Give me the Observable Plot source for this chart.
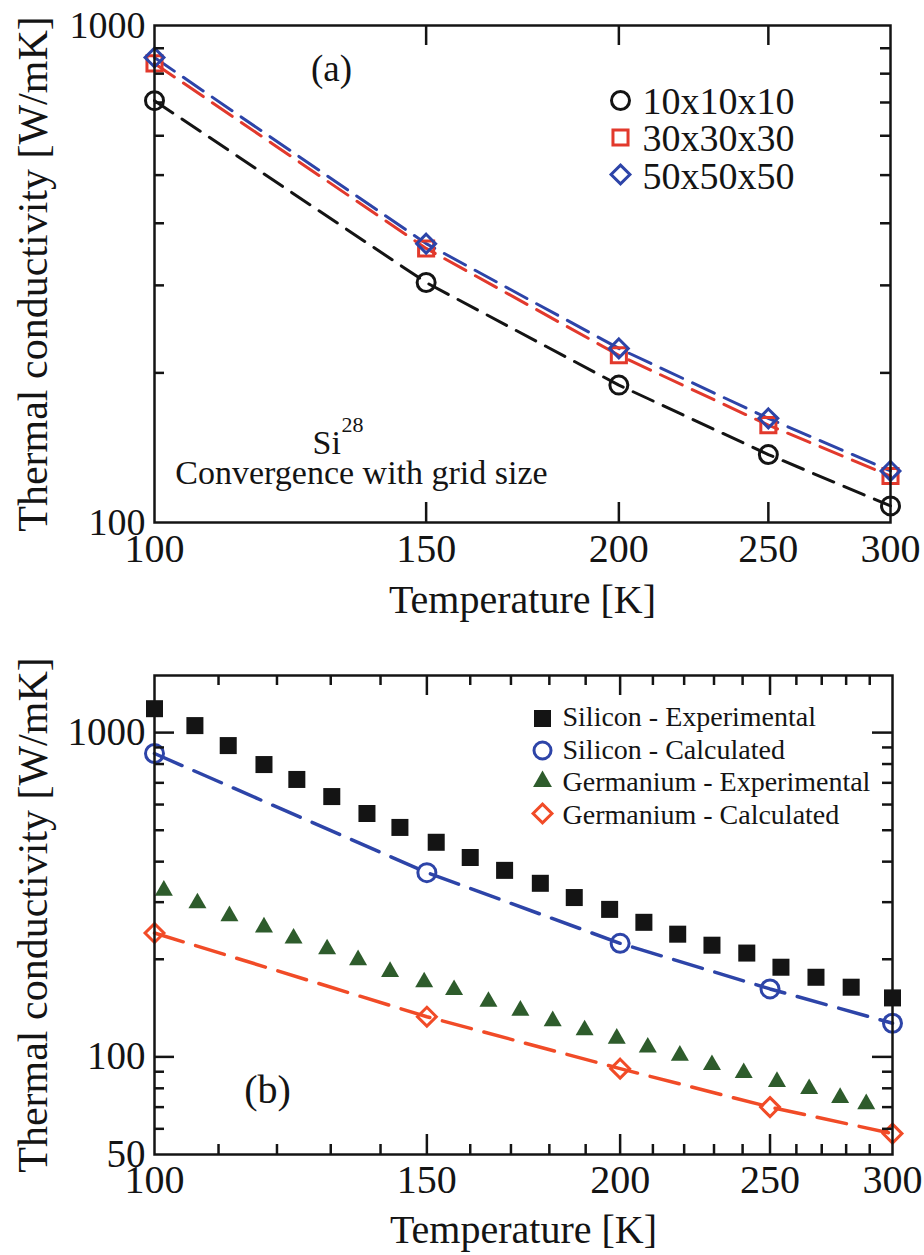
<!DOCTYPE html>
<html>
<head>
<meta charset="utf-8">
<script src="https://cdn.jsdelivr.net/npm/d3@7"></script>
<script src="https://cdn.jsdelivr.net/npm/@observablehq/plot@0.6"></script>
<style>
  body { margin: 0; background: #fff; }
  #chart svg { display: block; }
</style>
</head>
<body>
<div id="chart"></div>
<script>
// ---------- Panel (a) data ----------
const tempA = [100, 150, 200, 250, 300];
const grid10 = [706, 304, 189, 137, 108];
const grid30 = [839, 356, 217, 157, 124];
const grid50 = [862, 364, 224, 162, 127];
const gridLabels = ["10x10x10", "30x30x30", "50x50x50"];

// ---------- Panel (b) data ----------
const tempCalc = [100, 150, 200, 250, 300];
const siCalc = [862, 370, 224, 162, 127];
const geCalc = [241, 133, 92, 70, 58];
const siExpT = [100, 106.2, 111.6, 117.7, 123.6, 130.2, 137.2, 144.1, 152.1, 160, 168.4, 177.6, 186.8, 196.9, 207.2, 217.9, 229.3, 241.5, 254.1, 267.7, 282.1, 300];
const siExpK = [1185, 1051, 912, 797, 717, 635, 563, 510, 459, 412, 376, 343, 310, 285, 260, 239, 221, 209, 189, 176, 164, 152];
const geExpT = [101.4, 106.6, 111.8, 117.7, 123.0, 129.3, 135.4, 142.0, 149.4, 156.2, 164.4, 172.4, 180.9, 189.7, 199.0, 208.4, 218.6, 229.3, 240.4, 252.6, 265.0, 277.5, 288.5];
const geExpK = [326, 298, 272, 251, 232, 215, 199, 183, 170, 161, 148, 139, 129, 121, 114, 107, 101, 94.5, 89.3, 83.8, 79.7, 74.8, 71.6];
const legendB = ["Silicon - Experimental", "Silicon - Calculated", "Germanium - Experimental", "Germanium - Calculated"];

// ---------- tick values ----------
const xTickLabels = [100, 150, 200, 250, 300];
const xMajor = [150, 200, 250];
const xMinorB = [110, 120, 130, 140, 160, 170, 180, 190, 210, 220, 230, 240, 260, 270, 280, 290];
const yLabelsA = [100, 1000];
const yMinorA = [200, 300, 400, 500, 600, 700, 800, 900];
const yLabelsB = [50, 100, 1000];
const yMajorB = [100, 1000];
const yMinorB = [60, 70, 80, 90, 200, 300, 400, 500, 600, 700, 800, 900];

// ---------- styles ----------
const FONT = "Liberation Serif";
const INK = "#141414";
const RED_A = "#e2392c";
const BLUE = "#2d44a8";
const RED_B = "#f14b27";
const GREEN = "#2e5c2c";

const zip = (xs, ys) => xs.map((t, i) => ({t, k: ys[i]}));

function tickMarks(W, H, xMaj, xMin, yMaj, yMin) {
  const st = {stroke: INK, strokeWidth: 2.5};
  const M = 20, m = 10, out = [];
  out.push(Plot.tickX(xMaj, {x: d => d, insetTop: H - M, ...st}));
  out.push(Plot.tickX(xMaj, {x: d => d, insetBottom: H - M, ...st}));
  if (xMin.length) {
    out.push(Plot.tickX(xMin, {x: d => d, insetTop: H - m, ...st}));
    out.push(Plot.tickX(xMin, {x: d => d, insetBottom: H - m, ...st}));
  }
  if (yMaj.length) {
    out.push(Plot.tickY(yMaj, {y: d => d, insetRight: W - M, ...st}));
    out.push(Plot.tickY(yMaj, {y: d => d, insetLeft: W - M, ...st}));
  }
  out.push(Plot.tickY(yMin, {y: d => d, insetRight: W - m, ...st}));
  out.push(Plot.tickY(yMin, {y: d => d, insetLeft: W - m, ...st}));
  return out;
}

// ---------- Panel (a) ----------
const A = {w: 924, h: 630, mt: 25, mb: 108, ml: 154, mr: 34};
const AW = A.w - A.ml - A.mr, AH = A.h - A.mt - A.mb;
const symsA = ["circle", "square", "diamond2"];
const colsA = [INK, RED_A, BLUE];
const rA = [9, 8.5, 8.5];

const plotA = Plot.plot({
  width: A.w, height: A.h,
  marginTop: A.mt, marginBottom: A.mb, marginLeft: A.ml, marginRight: A.mr,
  style: {fontFamily: FONT, background: "white", color: INK},
  x: {type: "log", domain: [100, 300]},
  y: {type: "log", domain: [100, 1000]},
  marks: [
    Plot.line(zip(tempA, grid10), {x: "t", y: "k", stroke: INK, strokeWidth: 3, strokeDasharray: "22,11"}),
    Plot.line(zip(tempA, grid30), {x: "t", y: "k", stroke: RED_A, strokeWidth: 3, strokeDasharray: "24,11"}),
    Plot.line(zip(tempA, grid50), {x: "t", y: "k", stroke: BLUE, strokeWidth: 3, strokeDasharray: "24,11"}),
    Plot.dot(zip(tempA, grid10), {x: "t", y: "k", symbol: "circle", r: 9, stroke: INK, strokeWidth: 3, fill: "none"}),
    Plot.dot(zip(tempA, grid30), {x: "t", y: "k", symbol: "square", r: 8.5, stroke: RED_A, strokeWidth: 3, fill: "none"}),
    Plot.dot(zip(tempA, grid50), {x: "t", y: "k", symbol: "diamond2", r: 8.5, stroke: BLUE, strokeWidth: 3, fill: "none"}),
    Plot.frame({stroke: INK, strokeWidth: 2.5}),
    ...tickMarks(AW, AH, xMajor, [], [], yMinorA),
    Plot.axisX({ticks: xTickLabels, tickSize: 0, tickPadding: 11, fontSize: 40, tickFormat: d => String(d), label: null}),
    Plot.axisY({ticks: yLabelsA, tickSize: 0, tickPadding: 9, fontSize: 38, tickFormat: d => String(d), label: null}),
    Plot.text(["Temperature [K]"], {text: d => d, frameAnchor: "bottom", dy: 90, textAnchor: "middle", lineAnchor: "bottom", fontSize: 40}),
    Plot.text(["Thermal conductivity [W/mK]"], {text: d => d, frameAnchor: "left", rotate: -90, dx: -108, textAnchor: "middle", lineAnchor: "bottom", fontSize: 42}),
    Plot.text(["(a)"], {text: d => d, frameAnchor: "top-left", dx: 177, dy: 55, textAnchor: "middle", lineAnchor: "bottom", fontSize: 37}),
    Plot.text(["Si"], {text: d => d, frameAnchor: "top-left", dx: 158, dy: 428, textAnchor: "start", lineAnchor: "bottom", fontSize: 34}),
    Plot.text(["28"], {text: d => d, frameAnchor: "top-left", dx: 187, dy: 406, textAnchor: "start", lineAnchor: "bottom", fontSize: 22}),
    Plot.text(["Convergence with grid size"], {text: d => d, frameAnchor: "top-left", dx: 207, dy: 458, textAnchor: "middle", lineAnchor: "bottom", fontSize: 34}),
    ...gridLabels.map((lab, i) => Plot.dot([lab], {frameAnchor: "top-left", dx: 466, dy: 75 + i * 37, symbol: symsA[i], r: rA[i], stroke: colsA[i], strokeWidth: 3, fill: "none"})),
    ...gridLabels.map((lab, i) => Plot.text([lab], {text: d => d, frameAnchor: "top-left", dx: 488, dy: 88 + i * 37.5, textAnchor: "start", lineAnchor: "bottom", fontSize: 38}))
  ]
});

// ---------- Panel (b) ----------
const B = {w: 924, h: 625, mt: 45, mb: 101, ml: 154, mr: 32};
const BW = B.w - B.ml - B.mr, BH = B.h - B.mt - B.mb;
const legDotDy = [43, 75, 106, 138];
const legTextDy = [50, 83, 115, 148];
const legStyles = [
  {symbol: "square", r: 9.6, fill: INK, stroke: "none"},
  {symbol: "circle", r: 8.5, fill: "none", stroke: BLUE, strokeWidth: 3},
  {symbol: "triangle2", r: 9, fill: GREEN, stroke: "none"},
  {symbol: "diamond2", r: 8.5, fill: "none", stroke: RED_B, strokeWidth: 3}
];

const plotB = Plot.plot({
  width: B.w, height: B.h,
  marginTop: B.mt, marginBottom: B.mb, marginLeft: B.ml, marginRight: B.mr,
  style: {fontFamily: FONT, background: "white", color: INK},
  x: {type: "log", domain: [100, 300]},
  y: {type: "log", domain: [50, 1500]},
  marks: [
    Plot.line(zip(tempCalc, siCalc), {x: "t", y: "k", stroke: BLUE, strokeWidth: 3.5, strokeDasharray: "30,13"}),
    Plot.line(zip(tempCalc, geCalc), {x: "t", y: "k", stroke: RED_B, strokeWidth: 3.5, strokeDasharray: "30,13"}),
    Plot.dot(zip(siExpT, siExpK), {x: "t", y: "k", symbol: "square", r: 9.6, fill: INK}),
    Plot.dot(zip(geExpT, geExpK), {x: "t", y: "k", symbol: "triangle2", r: 8.6, fill: GREEN}),
    Plot.dot(zip(tempCalc, siCalc), {x: "t", y: "k", symbol: "circle", r: 9, stroke: BLUE, strokeWidth: 3, fill: "none"}),
    Plot.dot(zip(tempCalc, geCalc), {x: "t", y: "k", symbol: "diamond2", r: 8.5, stroke: RED_B, strokeWidth: 3, fill: "none"}),
    Plot.frame({stroke: INK, strokeWidth: 2.5}),
    ...tickMarks(BW, BH, xMajor, xMinorB, yMajorB, yMinorB),
    Plot.axisX({ticks: xTickLabels, tickSize: 0, tickPadding: 10, fontSize: 40, tickFormat: d => String(d), label: null}),
    Plot.axisY({ticks: yLabelsB, tickSize: 0, tickPadding: 9, fontSize: 39, tickFormat: d => String(d), label: null}),
    Plot.text(["Temperature [K]"], {text: d => d, frameAnchor: "bottom", dy: 88, textAnchor: "middle", lineAnchor: "bottom", fontSize: 40}),
    Plot.text(["Thermal conductivity [W/mK]"], {text: d => d, frameAnchor: "left", rotate: -90, dx: -108, textAnchor: "middle", lineAnchor: "bottom", fontSize: 42}),
    Plot.text(["(b)"], {text: d => d, frameAnchor: "top-left", dx: 113, dy: 427, textAnchor: "middle", lineAnchor: "bottom", fontSize: 40}),
    ...legendB.map((lab, i) => Plot.dot([lab], {frameAnchor: "top-left", dx: 388, dy: legDotDy[i], ...legStyles[i]})),
    ...legendB.map((lab, i) => Plot.text([lab], {text: d => d, frameAnchor: "top-left", dx: 408, dy: legTextDy[i], textAnchor: "start", lineAnchor: "bottom", fontSize: 28}))
  ]
});

const chart = document.getElementById("chart");
chart.appendChild(plotA);
chart.appendChild(plotB);
</script>
</body>
</html>
